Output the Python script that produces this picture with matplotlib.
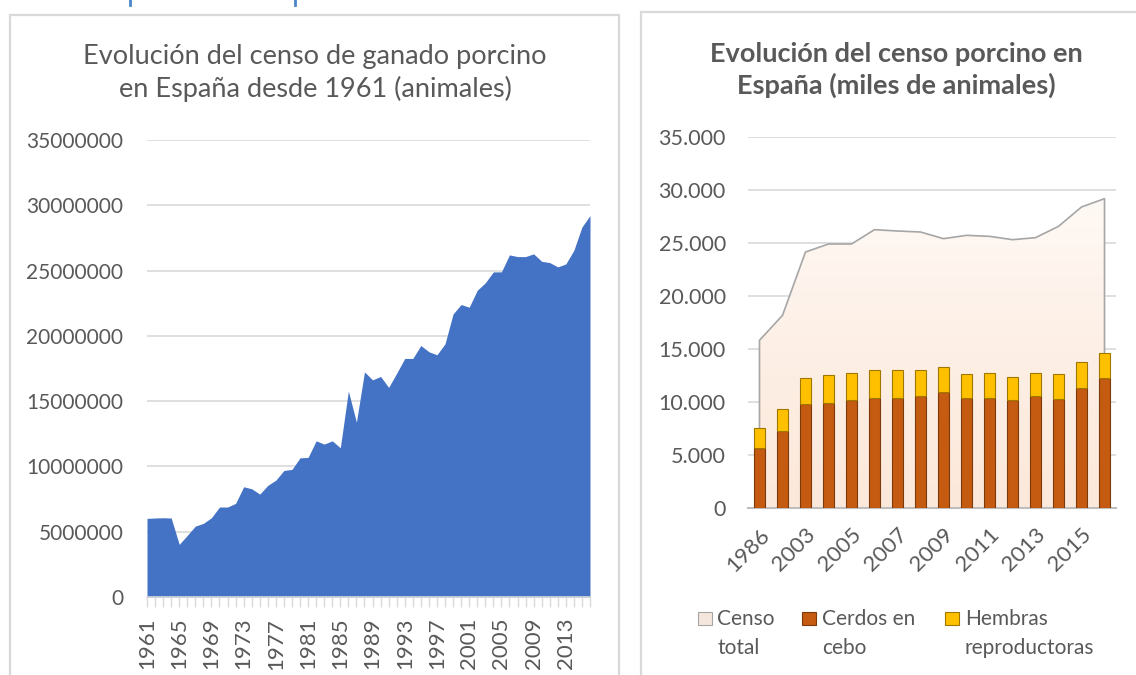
import matplotlib
matplotlib.use('Agg')
import matplotlib.pyplot as plt
import numpy as np
from matplotlib.patches import Rectangle
from matplotlib.lines import Line2D
from matplotlib.ticker import FuncFormatter
from matplotlib.colors import LinearSegmentedColormap

# ---------------- data ----------------
years = list(range(1961, 2017))
censo_anual = [
    6.02e6, 6.05e6, 6.07e6, 6.05e6, 4.03e6, 4.72e6, 5.43e6, 5.64e6, 6.07e6, 6.89e6,
    6.89e6, 7.17e6, 8.44e6, 8.29e6, 7.88e6, 8.55e6, 8.95e6, 9.69e6, 9.77e6, 10.66e6,
    10.69e6, 11.96e6, 11.71e6, 11.96e6, 11.43e6, 15.77e6, 13.39e6, 17.24e6, 16.63e6, 16.89e6,
    16.05e6, 17.14e6, 18.27e6, 18.27e6, 19.26e6, 18.78e6, 18.55e6, 19.39e6, 21.68e6, 22.40e6,
    22.19e6, 23.49e6, 24.06e6, 24.90e6, 24.90e6, 26.20e6, 26.07e6, 26.07e6, 26.28e6, 25.71e6,
    25.61e6, 25.28e6, 25.51e6, 26.56e6, 28.34e6, 29.21e6,
]
left_tick_years = list(range(1961, 2017, 4))

categorias = ['1986', '1995', '2003', '2004', '2005', '2006', '2007', '2008',
              '2009', '2010', '2011', '2012', '2013', '2014', '2015', '2016']
censo_total = [15818, 18176, 24151, 24906, 24906, 26258, 26132, 26038,
               25409, 25723, 25629, 25314, 25503, 26572, 28396, 29182]
cerdos_cebo = [5692, 7233, 9780, 9937, 10220, 10409, 10377, 10566,
               10943, 10377, 10377, 10220, 10566, 10314, 11352, 12264]
hembras_reproductoras = [1887, 2138, 2516, 2642, 2547, 2641, 2673, 2484,
                         2390, 2296, 2390, 2170, 2201, 2359, 2453, 2390]
legend_labels = ['Censo\ntotal', 'Cerdos en\ncebo', 'Hembras\nreproductoras']

# ---------------- style ----------------
FONT = 'Lato'
plt.rcParams['font.family'] = [FONT, 'DejaVu Sans']
TXT = '#595959'
GRID = '#D9D9D9'
W, H = 1136, 675

fig = plt.figure(figsize=(W / 100, H / 100), dpi=100)

def fx(px):
    return px / W

def fy(py):
    return 1 - py / H

# panel borders
fig.add_artist(Rectangle((fx(10), fy(700)), fx(609), (700 - 15) / H, transform=fig.transFigure,
                         fill=False, edgecolor='#D9D9D9', lw=1.6))
fig.add_artist(Rectangle((fx(641), fy(700)), fx(600), (700 - 12) / H, transform=fig.transFigure,
                         fill=False, edgecolor='#D9D9D9', lw=1.6))
# cut-off blue text fragments at the very top
for xp in (130, 295):
    fig.add_artist(Line2D([fx(xp), fx(xp)], [fy(0), fy(5)], transform=fig.transFigure,
                          color='#4A86C8', lw=2))

# ---------------- left chart ----------------
ax1 = fig.add_axes([fx(147), fy(597), fx(590) - fx(147), (597 - 140) / H])
ax1.fill_between(years, censo_anual, 0, color='#4472C4', lw=0, zorder=2)
ax1.set_xlim(1961, 2016)
ax1.set_ylim(0, 35e6)
ax1.set_yticks(np.arange(0, 35e6 + 1, 5e6))
ax1.yaxis.set_major_formatter(FuncFormatter(lambda v, p: f'{int(round(v))}'))
ax1.grid(axis='y', color=GRID, lw=1.2, zorder=0)
ax1.set_axisbelow(True)
for s in ('top', 'right', 'left'):
    ax1.spines[s].set_visible(False)
ax1.spines['bottom'].set_color(GRID)
ax1.spines['bottom'].set_linewidth(1.2)
ax1.set_xticks(years)
ax1.set_xticklabels([str(y) if y in left_tick_years else '' for y in years],
                    rotation=90, fontsize=16, color=TXT)
ax1.tick_params(axis='x', length=7, width=1, color=GRID, pad=8)
ax1.tick_params(axis='y', length=0, pad=17, labelsize=15, labelcolor=TXT)

fig.text(fx(315), fy(73), 'Evolución del censo de ganado porcino\nen España desde 1961 (animales)',
         ha='center', va='center', fontsize=19.5, color=TXT, linespacing=1.35)

# ---------------- right chart ----------------
ax2 = fig.add_axes([fx(748), fy(508), fx(1116) - fx(748), (508 - 137) / H])
x = np.arange(len(categorias))
area = ax2.fill_between(x, censo_total, 0, facecolor='none', edgecolor='#A6A6A6', lw=1.2, zorder=2.5)
grad_cmap = LinearSegmentedColormap.from_list('peach', ['#FCE8DA', '#FDEFE5', '#FFF9F5'])
grad = np.linspace(0, 1, 256).reshape(-1, 1)
img = ax2.imshow(grad, cmap=grad_cmap, origin='lower', aspect='auto',
                 extent=(-0.5, len(categorias) - 0.5, 0, max(censo_total)), zorder=2)
img.set_clip_path(area.get_paths()[0], transform=ax2.transData)
ax2.bar(x, cerdos_cebo, width=0.46, color='#C55A11', edgecolor='#7A3A0C', lw=0.8, zorder=3)
ax2.bar(x, hembras_reproductoras, width=0.46, bottom=cerdos_cebo, color='#FFC000',
        edgecolor='#A07800', lw=0.8, zorder=3)
ax2.set_xlim(-0.5, len(categorias) - 0.5)
ax2.set_ylim(0, 35000)
ax2.set_yticks(np.arange(0, 35001, 5000))
ax2.yaxis.set_major_formatter(FuncFormatter(lambda v, p: f'{int(round(v)):,}'.replace(',', '.')))
ax2.grid(axis='y', color=GRID, lw=1.2, zorder=0)
ax2.set_axisbelow(True)
for s in ('top', 'right', 'left'):
    ax2.spines[s].set_visible(False)
ax2.spines['bottom'].set_color('#BFBFBF')
ax2.spines['bottom'].set_linewidth(1.5)
ax2.set_xticks(x[::2])
ax2.set_xticklabels(categorias[::2], rotation=45, ha='right', rotation_mode='anchor',
                    fontsize=16, color=TXT)
ax2.tick_params(axis='x', length=0, pad=12)
ax2.tick_params(axis='y', length=0, pad=16, labelsize=15.5, labelcolor=TXT)

fig.text(fx(896), fy(70), 'Evolución del censo porcino en\nEspaña (miles de animales)',
         ha='center', va='center', fontsize=19.5, fontweight='bold', color=TXT, linespacing=1.3)

# legend (manual, handle aligned with first line)
leg_colors = [('#F4E6DC', '#A6A6A6'), ('#C55A11', '#7A3A0C'), ('#FFC000', '#A07800')]
leg_mark_x = [698, 802, 945]
leg_text_x = [717, 822, 965]
for lab, (fc, ec), mx, tx in zip(legend_labels, leg_colors, leg_mark_x, leg_text_x):
    fig.add_artist(Rectangle((fx(mx), fy(625)), fx(14), 13 / H, transform=fig.transFigure,
                             facecolor=fc, edgecolor=ec, lw=0.8))
    l1, l2 = lab.split('\n')
    fig.text(fx(tx), fy(625), l1, ha='left', va='baseline', fontsize=15, color=TXT)
    fig.text(fx(tx), fy(654), l2, ha='left', va='baseline', fontsize=15, color=TXT)

fig.savefig('out.png', dpi=100, facecolor='white')
